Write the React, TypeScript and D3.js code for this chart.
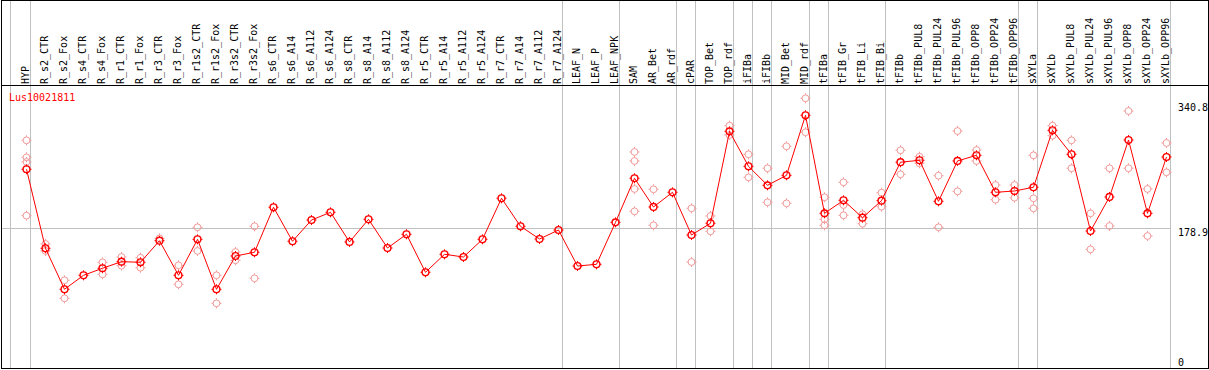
import React from "react";
import * as d3 from "d3";

const title = "Lus10021811";

const categories = [
  "HYP", "R_s2_CTR", "R_s2_Fox", "R_s4_CTR", "R_s4_Fox", "R_r1_CTR", "R_r1_Fox",
  "R_r3_CTR", "R_r3_Fox", "R_r1s2_CTR", "R_r1s2_Fox", "R_r3s2_CTR", "R_r3s2_Fox",
  "R_s6_CTR", "R_s6_A14", "R_s6_A112", "R_s6_A124", "R_s8_CTR", "R_s8_A14",
  "R_s8_A112", "R_s8_A124", "R_r5_CTR", "R_r5_A14", "R_r5_A112", "R_r5_A124",
  "R_r7_CTR", "R_r7_A14", "R_r7_A112", "R_r7_A124", "LEAF_N", "LEAF_P", "LEAF_NPK",
  "SAM", "AR_Bet", "AR_rdf", "cPAR", "TOP_Bet", "TOP_rdf", "iFIBa", "iFIBb",
  "MID_Bet", "MID_rdf", "tFIBa", "tFIB_Gr", "tFIB_Li", "tFIB_Bi", "tFIBb",
  "tFIBb_PUL8", "tFIBb_PUL24", "tFIBb_PUL96", "tFIBb_OPP8", "tFIBb_OPP24",
  "tFIBb_OPP96", "sXYLa", "sXYLb", "sXYLb_PUL8", "sXYLb_PUL24", "sXYLb_PUL96",
  "sXYLb_OPP8", "sXYLb_OPP24", "sXYLb_OPP96",
];

// mean expression per sample
const means = [
  255.0, 153.1, 100.3, 118.3, 127.4, 135.9, 135.1, 162.9, 118.3, 164.7, 100.3,
  143.2, 148.0, 206.0, 162.2, 189.6, 199.5, 161.3, 190.5, 153.5, 171.2, 122.2,
  145.4, 141.9, 164.7, 217.6, 181.5, 165.1, 176.7, 130.3, 132.5, 186.6, 243.4,
  206.4, 225.3, 170.3, 185.4, 303.9, 258.8, 234.3, 247.2, 324.6, 198.2, 215.0,
  192.6, 214.5, 264.1, 266.6, 213.7, 265.7, 273.0, 225.3, 227.0, 231.8, 305.2,
  274.3, 175.4, 219.3, 292.7, 198.2, 270.8,
];

// individual replicates (only the ones that stand apart from the mean)
const replicates: number[][] = [
  [292.3, 270.4, 264.4, 195.2], [158.7, 149.7], [111.9, 88.7], [], [135.1, 119.6],
  [141.9, 130.7], [141.0, 128.1], [166.0], [131.2, 106.7], [180.2, 149.7],
  [118.3, 82.2], [148.4, 137.7], [181.5, 114.5], [], [], [], [], [], [], [], [],
  [], [], [], [], [], [], [], [], [], [], [],
  [277.3, 265.7, 229.6, 200.8], [229.2, 182.8], [], [204.7, 135.5],
  [194.8, 175.0], [311.2, 299.2], [274.3, 244.6], [256.3, 212.4], [284.6, 211.1],
  [346.5, 302.7], [218.9, 190.5, 182.8], [238.2, 208.9, 195.7], [197.0, 184.8],
  [224.8, 206.8], [279.5, 248.5], [271.2, 262.7], [246.7, 180.2], [304.3, 226.6],
  [279.8, 265.7], [234.7, 215.8], [234.7, 218.4], [273.0, 217.6, 204.7],
  [311.2, 298.3], [292.3, 256.3], [198.2, 151.8], [256.3, 181.9], [330.1, 256.3],
  [229.6, 169.0], [288.9, 251.1],
];

// a grey separator follows each of these samples
const groupEnds = [
  "HYP", "R_r7_A124", "LEAF_NPK", "AR_rdf", "cPAR", "TOP_rdf", "iFIBa", "iFIBb",
  "MID_rdf", "tFIBa", "tFIB_Bi", "tFIBb_OPP96", "sXYLa", "sXYLb_OPP96",
];

const yTicks = [340.8, 178.9, 0];
const gridValues = [178.9];

const W = 1209;
const H = 370;
const headerY = 85.5;
const bottomY = 368.5;
const font = "'DejaVu Sans Mono', monospace";
const red = "#ff0000";
const pale = "#f29a9a";

function Marker({ x, y, color, sw }: { x: number; y: number; color: string; sw: number }) {
  const ticks = `M${x},${y - 5}v1.6M${x},${y + 3.4}v1.6M${x - 5},${y}h1.6M${x + 3.4},${y}h1.6`;
  return (
    <g>
      <circle cx={x} cy={y} r={3.4} fill="none" stroke={color} strokeWidth={sw} />
      <path d={ticks} stroke={color} strokeWidth={1} />
    </g>
  );
}

export default function App() {
  const x = d3.scaleBand<string>().domain(categories).range([11.5, 1170.5]).padding(0);
  const bw = x.bandwidth();
  const px = (c: string) => (x(c) as number) + 15;

  const y = d3.scaleLinear().domain([0, 340.8]).range([367.1, 102.7]);

  const line = d3
    .line<number>()
    .x((_, i) => px(categories[i]))
    .y((d) => y(d));

  return (
    <svg
      width={W}
      height={H}
      style={{ position: "absolute", left: 0, top: 0, display: "block", background: "#fff" }}
    >
      {/* separators */}
      <line x1={10.5} x2={10.5} y1={0} y2={bottomY} stroke="#c0c0c0" />
      {groupEnds.map((c) => {
        const xx = Math.round((x(c) as number) + bw) - 0.5;
        return <line key={c} x1={xx} x2={xx} y1={0} y2={bottomY} stroke="#c0c0c0" />;
      })}
      {gridValues.map((v) => {
        const yy = Math.round(y(v)) + 0.5;
        return <line key={v} x1={2} x2={1170} y1={yy} y2={yy} stroke="#c0c0c0" />;
      })}

      {/* frame */}
      <rect x={1.5} y={0.5} width={1207} height={368} fill="none" stroke="#000" />
      <line x1={1} x2={1209} y1={headerY} y2={headerY} stroke="#000" />

      {/* sample labels */}
      {categories.map((c) => {
        const tx = px(c) + 2.5;
        return (
          <text
            key={c}
            transform={`translate(${tx},84) rotate(-90)`}
            fontFamily={font}
            fontSize={10}
            fill="#000"
          >
            {c}
          </text>
        );
      })}

      <text x={9} y={100.5} fontFamily={font} fontSize={10} fill={red}>
        {title}
      </text>

      {yTicks.map((v) => (
        <text
          key={v}
          x={1178}
          y={Math.min(y(v) + 8, 365.5)}
          fontFamily={font}
          fontSize={10}
          fill="#000"
        >
          {v}
        </text>
      ))}

      {/* replicates */}
      {replicates.map((reps, i) =>
        reps.map((v, j) => (
          <Marker key={`${i}-${j}`} x={px(categories[i])} y={y(v)} color={pale} sw={1} />
        ))
      )}

      {/* mean profile */}
      <path d={line(means) || ""} fill="none" stroke={red} strokeWidth={1} />
      {means.map((v, i) => (
        <Marker key={i} x={px(categories[i])} y={y(v)} color={red} sw={1.4} />
      ))}
    </svg>
  );
}
